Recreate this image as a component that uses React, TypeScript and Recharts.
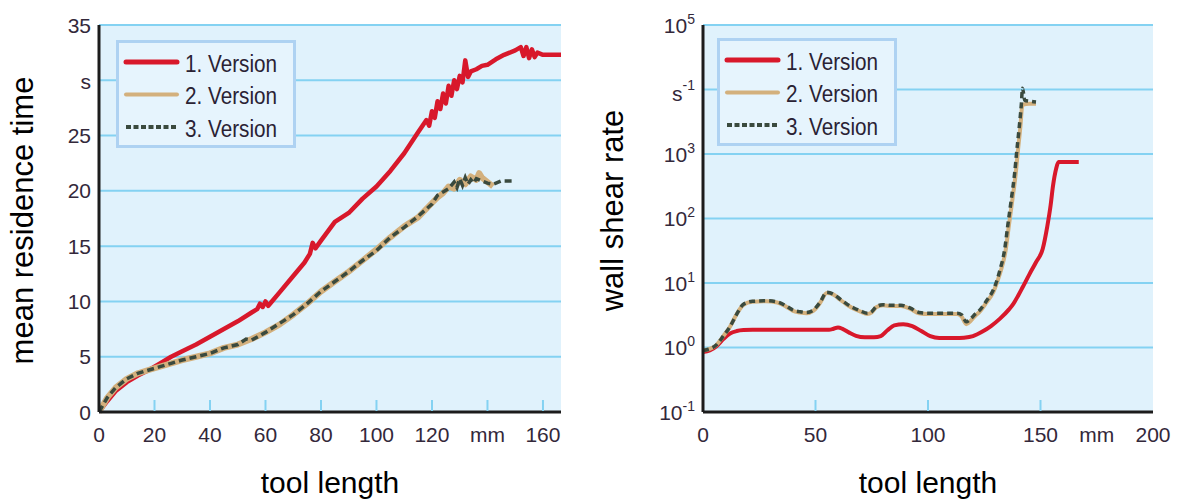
import React from 'react';
import { LineChart, Line, XAxis, YAxis, CartesianGrid, Legend, Label } from 'recharts';

const RED = '#d8182b';
const TAN = '#d3b07d';
const DARK = '#3a4a3e';
const BG = '#e0f2fc';
const GRID = '#84d2f2';
const AXIS = '#1c1c1c';
const TICK_COLOR = '#33283a';
const FONT = "'Liberation Sans', Arial, sans-serif";

const SERIES_NAMES = ['1. Version', '2. Version', '3. Version'];

// ---------- Left chart: mean residence time ----------
const timeTicks = [0, 5, 10, 15, 20, 25, 30, 35];
const timeUnitTick = 30; // shown as "s"
const lengthTicksLeft = [0, 20, 40, 60, 80, 100, 120, 140, 160];
const lengthUnitTickLeft = 140; // shown as "mm"

const v1TimeLength = [0, 3, 6, 10, 14, 18, 22, 26, 30, 35, 40, 45, 50, 55, 57, 58, 59, 60, 61, 62, 65, 70, 74, 76, 77, 78, 80, 85, 90, 95, 100, 105, 110, 115, 118, 119, 120, 121, 122, 123, 124, 125, 126, 127, 128, 129, 130, 131, 132, 133, 134, 136, 138, 140, 143, 146, 150, 152, 153, 154, 155, 156, 157, 158, 160, 166.5];
const v1Time = [0, 1.0, 1.9, 2.7, 3.3, 3.8, 4.4, 5.0, 5.5, 6.1, 6.8, 7.5, 8.2, 9.0, 9.3, 9.8, 9.5, 10.0, 9.6, 9.9, 10.8, 12.3, 13.5, 14.3, 15.3, 14.8, 15.5, 17.2, 18.0, 19.3, 20.4, 21.8, 23.4, 25.3, 26.4, 25.9, 27.2, 26.6, 28.1, 27.4, 28.8, 27.9, 29.5, 28.6, 30.0, 29.2, 30.4, 29.8, 31.8, 30.3, 30.8, 31.0, 31.3, 31.4, 31.9, 32.3, 32.7, 33.0, 32.2, 33.0, 32.0, 32.8, 32.1, 32.5, 32.3, 32.3];

const v2TimeLength = [0, 3, 6, 10, 14, 18, 22, 26, 30, 35, 40, 45, 50, 55, 60, 65, 70, 75, 80, 85, 90, 95, 100, 105, 110, 115, 120, 122, 124, 126, 128, 130, 132, 134, 136, 137, 138, 140, 142];
const v2Time = [0, 1.3, 2.2, 3.0, 3.5, 3.8, 4.1, 4.4, 4.7, 5.0, 5.3, 5.8, 6.1, 6.6, 7.2, 7.9, 8.8, 9.8, 10.9, 11.8, 12.7, 13.7, 14.7, 15.8, 16.8, 17.6, 18.9, 19.4, 19.8, 20.4, 20.2, 21.0, 20.6, 21.3, 21.0, 21.6, 21.2, 20.8, 20.4];

const v3TimeLength = [0, 3, 6, 10, 14, 18, 22, 26, 30, 35, 40, 45, 50, 53, 55, 60, 65, 70, 75, 80, 85, 90, 95, 100, 105, 110, 115, 120, 122, 124, 126, 128, 129, 130, 131, 132, 133, 134, 135, 136, 138, 140, 142, 145, 150];
const v3Time = [0, 1.3, 2.2, 3.0, 3.5, 3.8, 4.1, 4.4, 4.7, 5.0, 5.3, 5.8, 6.1, 6.6, 6.5, 7.2, 8.0, 8.8, 9.8, 10.9, 11.8, 12.7, 13.7, 14.6, 15.8, 16.7, 17.7, 18.8, 19.6, 19.9, 20.2, 20.8, 20.3, 21.1, 20.5, 21.2, 20.6, 21.0, 20.7, 21.1, 20.9, 20.7, 20.6, 20.9, 20.9];

// ---------- Right chart: wall shear rate ----------
const shearTicks = [0.1, 1, 10, 100, 1000, 10000, 100000];
const shearUnitTick = 10000; // shown as "s^-1"
const lengthTicksRight = [0, 50, 100, 150, 175, 200];
const lengthUnitTickRight = 175; // shown as "mm"
const lengthMarksRight = [50, 100, 150];

const v1ShearLength = [0, 3, 6, 9, 12, 15, 18, 22, 30, 40, 50, 56, 58, 60, 62, 65, 68, 72, 76, 79, 82, 85, 89, 93, 97, 101, 105, 112, 116, 120, 124, 128, 132, 136, 138, 140, 142, 145, 148, 151, 153, 154.5, 155.5, 157, 158, 167];
const v1Shear = [0.85, 0.9, 1.05, 1.35, 1.65, 1.8, 1.86, 1.88, 1.88, 1.88, 1.88, 1.88, 1.95, 2.05, 1.95, 1.7, 1.52, 1.44, 1.44, 1.5, 1.85, 2.2, 2.3, 2.15, 1.8, 1.5, 1.4, 1.4, 1.42, 1.5, 1.75, 2.15, 2.8, 3.9, 4.8, 6.3, 8.5, 13.5, 21, 34, 75, 160, 310, 600, 750, 750];

const v2ShearLength = [0, 3, 6, 9, 12, 15, 18, 22, 28, 33, 37, 40, 43, 46, 49, 52, 55, 58, 61, 64, 67, 70, 73, 75, 77, 80, 84, 88, 92, 96, 100, 105, 110, 113, 115, 117, 119, 121, 123, 126, 129, 131, 132.5, 134.5, 136, 137.5, 139, 140, 141, 142, 145, 148];
const v2Shear = [0.9, 0.95, 1.1, 1.5, 2.1, 3.3, 4.6, 5.1, 5.2, 5.0, 4.3, 3.7, 3.5, 3.4, 3.7, 4.9, 7.0, 6.6, 5.5, 4.6, 4.0, 3.6, 3.3, 3.5, 4.2, 4.5, 4.4, 4.4, 4.0, 3.4, 3.3, 3.3, 3.3, 3.3, 3.0, 2.3, 2.6, 3.1, 3.6, 5.0, 7.2, 11, 16, 32, 80, 195, 500, 1150, 2500, 5800, 6000, 6000];

const v3ShearLength = [0, 3, 6, 9, 12, 15, 18, 22, 28, 33, 37, 40, 43, 46, 49, 52, 55, 58, 61, 64, 67, 70, 73, 75, 77, 80, 84, 88, 92, 96, 100, 105, 110, 113, 115, 117, 119, 121, 123, 126, 129, 131, 132, 134, 135.5, 137, 138.5, 139.5, 140.5, 141.5, 142, 143, 145, 148];
const v3Shear = [0.9, 0.95, 1.1, 1.5, 2.1, 3.3, 4.7, 5.2, 5.3, 5.1, 4.4, 3.8, 3.6, 3.5, 3.8, 5.0, 7.2, 6.7, 5.6, 4.7, 4.1, 3.7, 3.4, 3.6, 4.3, 4.6, 4.5, 4.5, 4.1, 3.5, 3.4, 3.4, 3.4, 3.4, 3.2, 2.5, 2.8, 3.3, 3.8, 5.3, 7.8, 12, 16, 32, 80, 195, 500, 1150, 2500, 6000, 10500, 6800, 6600, 6400];

const zip = (xs: number[], ys: number[]) => xs.map((x, i) => ({ x, y: ys[i] }));

const leftV1 = zip(v1TimeLength, v1Time);
const leftV2 = zip(v2TimeLength, v2Time);
const leftV3 = zip(v3TimeLength, v3Time);
const rightV1 = zip(v1ShearLength, v1Shear);
const rightV2 = zip(v2ShearLength, v2Shear);
const rightV3 = zip(v3ShearLength, v3Shear);

const X_TICK_GAP = 15;
const Y_TICK_GAP = 8;

const makeXTick = (unitValue: number, marks: number[]) => (props: any) => {
  const { x, y, payload } = props;
  const v = payload.value;
  const axisY = y - X_TICK_GAP;
  return (
    <g>
      {marks.includes(v) && (
        <line x1={x} x2={x} y1={axisY - 1} y2={axisY - 12} stroke={GRID} strokeWidth={2} />
      )}
      <text x={x} y={y} dy="0.72em" textAnchor="middle" fill={TICK_COLOR} fontSize={21} fontFamily={FONT}>
        {v === unitValue ? 'mm' : v}
      </text>
    </g>
  );
};

const LeftYTick = (props: any) => {
  const { x, y, payload } = props;
  const v = payload.value;
  if (v === timeUnitTick) {
    return (
      <text x={x} y={y} dy={9} textAnchor="end" fill={TICK_COLOR} fontSize={21} fontFamily={FONT}>s</text>
    );
  }
  return (
    <text x={x} y={y} dy="0.36em" textAnchor="end" fill={TICK_COLOR} fontSize={21} fontFamily={FONT}>{v}</text>
  );
};

const RightYTick = (props: any) => {
  const { x, y, payload } = props;
  const v = payload.value;
  if (v === shearUnitTick) {
    return (
      <text x={x} y={y} dy={11} textAnchor="end" fill={TICK_COLOR} fontSize={21} fontFamily={FONT}>
        <tspan>s</tspan>
        <tspan dy={-11} fontSize={14}>-1</tspan>
      </text>
    );
  }
  const exp = Math.round(Math.log10(v));
  return (
    <text x={x} y={y} dy="0.36em" textAnchor="end" fill={TICK_COLOR} fontSize={21} fontFamily={FONT}>
      <tspan>10</tspan>
      <tspan dy={-9} fontSize={14}>{exp}</tspan>
    </text>
  );
};

const legendLines = [
  { color: RED, width: 5, dash: undefined as string | undefined },
  { color: TAN, width: 4, dash: undefined as string | undefined },
  { color: DARK, width: 4, dash: '5 2.5' },
];

const LegendBox = () => (
  <svg width={180} height={108} style={{ display: 'block' }}>
    <rect x={1.5} y={1.5} width={177} height={105} fill="#e6f4fd" stroke="#aed2f2" strokeWidth={3} />
    {SERIES_NAMES.map((name, i) => {
      const cy = 22 + i * 32.5;
      const st = legendLines[i];
      return (
        <g key={name}>
          <line x1={10} x2={61} y1={cy} y2={cy} stroke={st.color} strokeWidth={st.width} strokeDasharray={st.dash} strokeLinecap={st.dash ? 'butt' : 'round'} />
          <text x={69} y={cy + 9.7} fontSize={23} fontFamily={FONT} fill="#2a2234" textLength={92} lengthAdjust="spacingAndGlyphs">
            {name}
          </text>
        </g>
      );
    })}
  </svg>
);

const yTitle = (text: string, offsetY: number) => (p: any) => {
  const vb = p.viewBox || { x: 0, y: 0, width: 0, height: 0 };
  const cx = vb.x + 33;
  const cy = vb.y + vb.height / 2 + offsetY;
  return (
    <text x={cx} y={cy} transform={`rotate(-90, ${cx}, ${cy})`} textAnchor="middle" fontSize={31} fontFamily={FONT} fill="#000">
      {text}
    </text>
  );
};

export default function App() {
  return (
    <div style={{ position: 'absolute', left: 0, top: 0, width: 1178, height: 500, background: '#fff' }}>
      <div style={{ position: 'absolute', left: 0, top: 0 }}>
        <LineChart width={590} height={500} margin={{ top: 25, right: 29, bottom: 0, left: 0 }}>
          <CartesianGrid horizontal vertical={false} stroke={GRID} strokeWidth={2} fill={BG} fillOpacity={1} />
          <XAxis
            type="number"
            dataKey="x"
            domain={[0, 166.5]}
            ticks={lengthTicksLeft}
            interval={0}
            allowDataOverflow
            height={88}
            axisLine={{ stroke: AXIS, strokeWidth: 3 }}
            tickLine={false}
            tickSize={0}
            tickMargin={X_TICK_GAP}
            tick={makeXTick(lengthUnitTickLeft, lengthTicksLeft.filter((t) => t !== 0))}
          >
            <Label value="tool length" position="insideBottom" offset={7} style={{ fontSize: 30, fontFamily: FONT, fill: '#000' }} />
          </XAxis>
          <YAxis
            type="number"
            domain={[0, 35]}
            ticks={timeTicks}
            interval={0}
            width={99}
            axisLine={{ stroke: AXIS, strokeWidth: 3 }}
            tickLine={false}
            tickSize={0}
            tickMargin={Y_TICK_GAP}
            tick={LeftYTick}
          >
            <Label content={yTitle('mean residence time', 2)} />
          </YAxis>
          <YAxis yAxisId="edge" orientation="right" width={0} domain={[0, 1]} tick={false} tickLine={false} axisLine={{ stroke: GRID, strokeWidth: 2 }} />
          <Legend layout="vertical" align="center" verticalAlign="middle" wrapperStyle={{ left: 116, top: 40, width: 180, height: 108 }} content={() => <LegendBox />} />
          <Line data={leftV1} dataKey="y" name={SERIES_NAMES[0]} type="linear" stroke={RED} strokeWidth={4.5} strokeLinejoin="round" dot={false} activeDot={false} isAnimationActive={false} />
          <Line data={leftV2} dataKey="y" name={SERIES_NAMES[1]} type="linear" stroke={TAN} strokeWidth={6} strokeLinejoin="round" dot={false} activeDot={false} isAnimationActive={false} />
          <Line data={leftV3} dataKey="y" name={SERIES_NAMES[2]} type="linear" stroke={DARK} strokeWidth={3.5} strokeDasharray="7 4" dot={false} activeDot={false} isAnimationActive={false} />
        </LineChart>
      </div>
      <div style={{ position: 'absolute', left: 590, top: 0 }}>
        <LineChart width={588} height={500} margin={{ top: 25, right: 25, bottom: 0, left: 0 }}>
          <CartesianGrid horizontal vertical={false} stroke={GRID} strokeWidth={2} fill={BG} fillOpacity={1} />
          <XAxis
            type="number"
            dataKey="x"
            domain={[0, 200]}
            ticks={lengthTicksRight}
            interval={0}
            allowDataOverflow
            height={88}
            axisLine={{ stroke: AXIS, strokeWidth: 3 }}
            tickLine={false}
            tickSize={0}
            tickMargin={X_TICK_GAP}
            tick={makeXTick(lengthUnitTickRight, lengthMarksRight)}
          >
            <Label value="tool length" position="insideBottom" offset={7} style={{ fontSize: 30, fontFamily: FONT, fill: '#000' }} />
          </XAxis>
          <YAxis
            type="number"
            scale="log"
            domain={[0.1, 100000]}
            ticks={shearTicks}
            interval={0}
            allowDataOverflow
            width={113}
            axisLine={{ stroke: AXIS, strokeWidth: 3 }}
            tickLine={false}
            tickSize={0}
            tickMargin={Y_TICK_GAP}
            tick={RightYTick}
          >
            <Label content={yTitle('wall shear rate', -8)} />
          </YAxis>
          <YAxis yAxisId="edge" orientation="right" width={0} domain={[0, 1]} tick={false} tickLine={false} axisLine={{ stroke: GRID, strokeWidth: 2 }} />
          <Legend layout="vertical" align="center" verticalAlign="middle" wrapperStyle={{ left: 127, top: 38, width: 180, height: 108 }} content={() => <LegendBox />} />
          <Line data={rightV1} dataKey="y" name={SERIES_NAMES[0]} type="monotone" stroke={RED} strokeWidth={4} dot={false} activeDot={false} isAnimationActive={false} />
          <Line data={rightV2} dataKey="y" name={SERIES_NAMES[1]} type="monotone" stroke={TAN} strokeWidth={4} dot={false} activeDot={false} isAnimationActive={false} />
          <Line data={rightV3} dataKey="y" name={SERIES_NAMES[2]} type="monotone" stroke={DARK} strokeWidth={3.5} strokeDasharray="6 4" dot={false} activeDot={false} isAnimationActive={false} />
        </LineChart>
      </div>
    </div>
  );
}
